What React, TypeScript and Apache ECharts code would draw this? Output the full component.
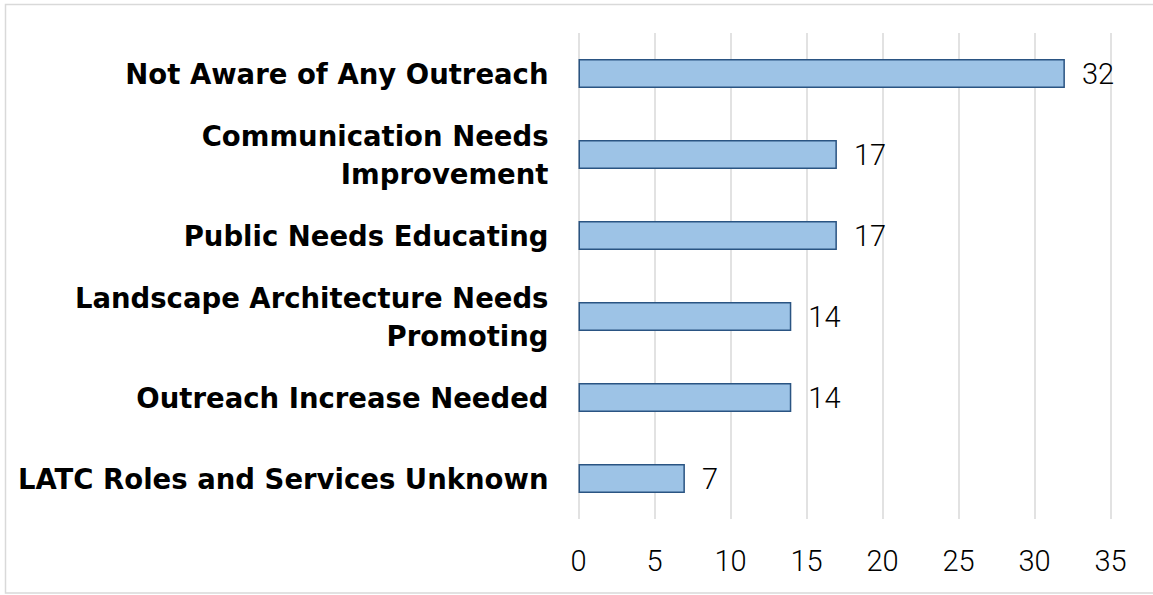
import React, { useEffect, useRef } from "react";
import * as echarts from "echarts";

const categories = [
  "LATC Roles and Services Unknown",
  "Outreach Increase Needed",
  "Landscape Architecture Needs\nPromoting",
  "Public Needs Educating",
  "Communication Needs\nImprovement",
  "Not Aware of Any Outreach",
];
const values = [7, 14, 14, 17, 17, 32];
const xTicks = { min: 0, max: 35, interval: 5 };

export default function App() {
  const ref = useRef<HTMLDivElement>(null);
  useEffect(() => {
    if (!ref.current) return;
    const chart = echarts.init(ref.current, null, { renderer: "svg" });
    chart.setOption({
      animation: false,
      backgroundColor: "#ffffff",
      graphic: [
        {
          type: "rect",
          shape: { x: 5.5, y: 4.5, width: 1150, height: 588.5 },
          style: { fill: "none", stroke: "#d9d9d9", lineWidth: 1.5 },
          silent: true,
        },
      ],
      grid: { left: 578.5, right: 42.5, top: 33, bottom: 76, containLabel: false },
      xAxis: {
        type: "value",
        min: xTicks.min,
        max: xTicks.max,
        interval: xTicks.interval,
        axisLine: { show: false },
        axisTick: { show: false },
        splitLine: { show: true, lineStyle: { color: "#d9d9d9", width: 1.5 } },
        axisLabel: {
          color: "#000000",
          fontFamily: "Roboto",
          fontWeight: 300,
          fontSize: 29,
          margin: 27,
        },
      },
      yAxis: {
        type: "category",
        data: categories,
        axisLine: { show: false },
        axisTick: { show: false },
        splitLine: { show: false },
        axisLabel: {
          color: "#000000",
          fontFamily: "DejaVu Sans",
          fontWeight: "bold",
          fontSize: 27.5,
          lineHeight: 38,
          margin: 30,
          align: "right",
        },
      },
      series: [
        {
          type: "bar",
          data: values,
          barWidth: "36%",
          itemStyle: { color: "#9dc3e6", borderColor: "#2a5482", borderWidth: 1.5 },
          label: {
            show: true,
            position: "right",
            distance: 17,
            color: "#000000",
            fontFamily: "Roboto",
            fontWeight: 300,
            fontSize: 29,
          },
        },
      ],
    });
    return () => chart.dispose();
  }, []);
  return (
    <div
      ref={ref}
      style={{ position: "fixed", left: 0, top: 0, width: 1153, height: 595 }}
    />
  );
}
